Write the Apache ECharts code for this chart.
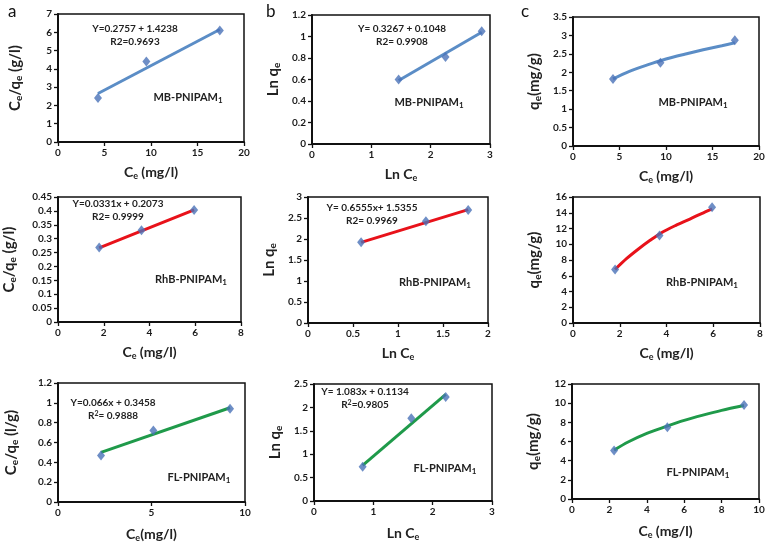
<!DOCTYPE html>
<html><head><meta charset="utf-8">
<script src="https://cdn.jsdelivr.net/npm/echarts@6/dist/echarts.min.js"></script>
<style>html,body{margin:0;padding:0;background:#fff}#c{width:770px;height:545px}</style>
</head><body><div id="c"></div>
<script>
// ---- data ----
const pointsA1 = [[4.3, 2.4], [9.5, 4.4], [17.4, 6.1]];
const fitA1 = [[4.3, 2.65], [17.4, 6.15]];
const pointsB1 = [[1.46, 0.6], [2.25, 0.81], [2.86, 1.05]];
const fitB1 = [[1.46, 0.59], [2.86, 1.04]];
const pointsC1 = [[4.3, 1.82], [9.4, 2.26], [17.4, 2.87]];
const fitC1 = [[4.3, 1.82], [6, 2.02], [8, 2.2], [10, 2.36], [12, 2.49], [14, 2.61], [16, 2.72], [17.4, 2.8]];

const pointsA2 = [[1.8, 0.268], [3.65, 0.33], [5.95, 0.403]];
const fitA2 = [[1.8, 0.267], [5.95, 0.404]];
const pointsB2 = [[0.59, 1.92], [1.31, 2.42], [1.78, 2.69]];
const fitB2 = [[0.59, 1.92], [1.78, 2.7]];
const pointsC2 = [[1.8, 6.8], [3.7, 11.1], [5.95, 14.7]];
const fitC2 = [[1.8, 6.8], [2.3, 8.2], [2.8, 9.4], [3.3, 10.5], [3.8, 11.5], [4.4, 12.4], [5, 13.2], [5.5, 13.9], [5.95, 14.5]];

const pointsA3 = [[2.3, 0.47], [5.1, 0.72], [9.2, 0.94]];
const fitA3 = [[2.3, 0.5], [9.2, 0.95]];
const pointsB3 = [[0.82, 0.73], [1.64, 1.77], [2.22, 2.22]];
const fitB3 = [[0.82, 0.76], [2.22, 2.28]];
const pointsC3 = [[2.25, 5.05], [5.1, 7.5], [9.2, 9.8]];
const fitC3 = [[2.25, 5.1], [3, 5.95], [4, 6.85], [5, 7.55], [6, 8.2], [7, 8.75], [8, 9.25], [9.2, 9.75]];

const xRanges = [[0,20,5],[0,3,1],[0,20,5],[0,8,2],[0,2,0.5],[0,8,2],[0,10,5],[0,3,1],[0,10,2]];
const yRanges = [[0,7,1],[0,1.2,0.2],[0,3.5,0.5],[0,0.45,0.05],[0,3,0.5],[0,16,2],[0,1.2,0.2],[0,2.5,0.5],[0,12,2]];

const xNames = ['{m|C}{s|e}{m| (mg/l)}','{m|Ln C}{s|e}','{m|C}{s|e}{m| (mg/l)}',
                '{m|C}{s|e}{m| (mg/l)}','{m|Ln C}{s|e}','{m|C}{s|e}{m| (mg/l)}',
                '{m|C}{s|e}{m|(mg/l)}','{m|Ln C}{s|e}','{m|C}{s|e}{m| (mg/l)}'];
const yNames = ['{m|C}{s|e}{m|/q}{s|e}{m| (g/l)}','{m|Ln q}{s|e}','{m|q}{s|e}{m|(mg/g)}',
                '{m|C}{s|e}{m|/q}{s|e}{m| (g/l)}','{m|Ln q}{s|e}','{m|q}{s|e}{m|(mg/g)}',
                '{m|C}{s|e}{m|/q}{s|e}{m| (l/g)}','{m|Ln q}{s|e}','{m|q}{s|e}{m|(mg/g)}'];

const eqLines = [['Y=0.2757 + 1.4238','R2=0.9693'],['Y= 0.3267 + 0.1048','R2= 0.9908'],null,
                 ['Y=0.0331x + 0.2073','R2= 0.9999'],['Y= 0.6555x+ 1.5355','R2= 0.9969'],null,
                 ['Y=0.066x + 0.3458','R{p|2}= 0.9888'],['Y= 1.083x + 0.1134','R{p|2}=0.9805'],null];
const sampleNames = ['MB-PNIPAM','MB-PNIPAM','MB-PNIPAM','RhB-PNIPAM','RhB-PNIPAM','RhB-PNIPAM','FL-PNIPAM','FL-PNIPAM','FL-PNIPAM'];
const panelLetters = ['a','b','c'];

const allPoints = [pointsA1,pointsB1,pointsC1,pointsA2,pointsB2,pointsC2,pointsA3,pointsB3,pointsC3];
const allFits = [fitA1,fitB1,fitC1,fitA2,fitB2,fitC2,fitA3,fitB3,fitC3];
const smoothFit = [false,false,true,false,false,true,false,false,true];
const rowColors = ['#5b8dc6','#e8121a','#1f9a4a'];

// ---- layout ----
const grids = [
  {left:58, top:14, width:186, height:128},
  {left:312, top:15, width:178, height:129},
  {left:573, top:17, width:186, height:129},
  {left:58, top:197, width:183, height:125},
  {left:308, top:197, width:180, height:126},
  {left:573, top:197, width:187, height:126},
  {left:58, top:383, width:187, height:119},
  {left:314, top:384, width:178, height:117},
  {left:572, top:384, width:187, height:115}
];
const yGaps = [34,30,30,40,30,30,38,30,30];
const eqPos = [[135,29],[402,29],null,[118,204],[372,208],null,[113,403],[365,392],null];
const labelPos = [[188,97],[429,102],[693,102],[191,279],[435,282],[702,282],[199,477],[445,468],[698,472]];

const FONT = 'Lato';
const richX = {
  m:{fontSize:14,fontWeight:'bold',fontFamily:FONT,color:'#222'},
  s:{fontSize:9,fontWeight:'bold',fontFamily:FONT,color:'#222',verticalAlign:'bottom',padding:[8,0,0,0]}
};
const richY = {
  m:{fontSize:15,fontWeight:'bold',fontFamily:FONT,color:'#222'},
  s:{fontSize:10,fontWeight:'bold',fontFamily:FONT,color:'#222',verticalAlign:'bottom',padding:[8,0,0,0]}
};

const option = {animation:false, grid:[], xAxis:[], yAxis:[], series:[], graphic:[]};
for (let i=0;i<9;i++){
  const g = grids[i];
  option.grid.push(Object.assign({show:true, borderColor:'#111', borderWidth:1.5, backgroundColor:'#fff'}, g));
  const xr = xRanges[i], yr = yRanges[i];
  const axisCommon = {
    axisLine:{show:true, onZero:false, lineStyle:{color:'#111', width:2}},
    axisTick:{show:true, inside:false, length:4, lineStyle:{color:'#111', width:1.3}},
    splitLine:{show:false},
    axisLabel:{fontSize:10, fontWeight:'bold', fontFamily:FONT, color:'#1a1a1a', margin:6},
    nameLocation:'middle'
  };
  option.xAxis.push(Object.assign({}, axisCommon, {
    type:'value', gridIndex:i, min:xr[0], max:xr[1], interval:xr[2],
    name:xNames[i], nameGap:i>=6?24:22, nameTextStyle:{rich:richX}
  }));
  option.yAxis.push(Object.assign({}, axisCommon, {
    type:'value', gridIndex:i, min:yr[0], max:yr[1], interval:yr[2],
    name:yNames[i], nameGap:yGaps[i], nameRotate:90,
    nameTextStyle:{rich:richY}
  }));
  const color = rowColors[Math.floor(i/3)];
  option.series.push({
    type:'line', xAxisIndex:i, yAxisIndex:i, data:allFits[i], smooth:smoothFit[i]?0.3:false,
    showSymbol:false, symbol:'none', lineStyle:{color:color, width:3}, z:2
  });
  option.series.push({
    type:'scatter', xAxisIndex:i, yAxisIndex:i, data:allPoints[i],
    symbol:'diamond', symbolSize:[8,10], itemStyle:{color:'#4a72b8'}, z:3
  });
  if (eqLines[i]) {
    option.graphic.push({type:'text', z:10, position:[eqPos[i][0],eqPos[i][1]],
      style:{text:eqLines[i][0], align:'center', verticalAlign:'middle',
        font:'bold 10px '+FONT, fill:'#222'}});
    option.graphic.push({type:'text', z:10, position:[eqPos[i][0],eqPos[i][1]+13],
      style:{text:eqLines[i][1], align:'center', verticalAlign:'middle',
        font:'bold 10px '+FONT, fill:'#222',
        rich:{p:{fontSize:7,fontWeight:'bold',fontFamily:FONT,verticalAlign:'top',padding:[0,0,5,0]}}}});
  }
  option.graphic.push({type:'text', z:10, position:labelPos[i],
    style:{text:sampleNames[i]+'{s|1}', align:'center', verticalAlign:'middle',
      font:'bold 11px '+FONT, fill:'#222',
      rich:{s:{fontSize:8,fontWeight:'bold',fontFamily:FONT,fill:'#222',verticalAlign:'bottom',padding:[6,0,0,0]}}}});
}
panelLetters.forEach((t,k)=>{
  option.graphic.push({type:'text', position:[[8,266,521][k],3], z:10,
    style:{text:t, font:'17px '+FONT, fill:'#111'}});
});
const chart = echarts.init(document.getElementById('c'), null, {renderer:'canvas'});
chart.setOption(option);
</script></body></html>
